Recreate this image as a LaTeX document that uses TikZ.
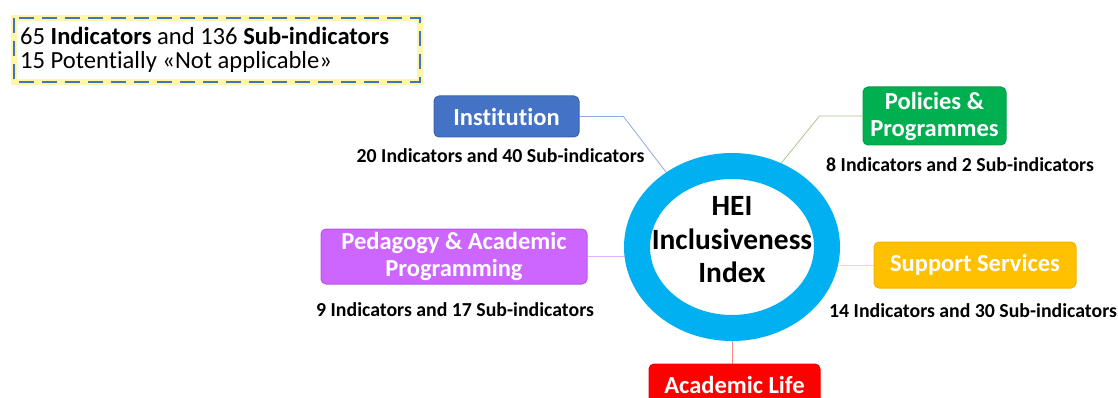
\documentclass[tikz,border=0pt]{standalone}
\usepackage{fontspec}
\setmainfont{Carlito}[Ligatures=NoCommon]
\usetikzlibrary{shapes.geometric,backgrounds}
\definecolor{ringblue}{HTML}{00B0F0}
\definecolor{instblue}{HTML}{4472C4}
\definecolor{instedge}{HTML}{3A64B0}
\definecolor{polgreen}{HTML}{00B050}
\definecolor{poledge}{HTML}{00A046}
\definecolor{pedviolet}{HTML}{CC66FF}
\definecolor{pededge}{HTML}{BB55EE}
\definecolor{supgold}{HTML}{FFC000}
\definecolor{supedge}{HTML}{F0B400}
\definecolor{acadred}{HTML}{FF0000}
\definecolor{acadedge}{HTML}{E80000}
\definecolor{lnblue}{HTML}{8FAADC}
\definecolor{lngreen}{HTML}{A9C48E}
\definecolor{lnviolet}{HTML}{E2B0FF}
\definecolor{lngold}{HTML}{FFE08A}
\definecolor{lnred}{HTML}{FF8A8A}
\definecolor{glowyellow}{HTML}{FFF06A}
\begin{document}
\begin{tikzpicture}[x=1pt,y=-1pt,
  catbox/.style={rounded corners=5pt, line width=1pt, text=white,
    font=\fontsize{24.5}{27}\selectfont\bfseries, align=center, inner sep=0pt},
  countlabel/.style={font=\fontsize{19.8}{23}\selectfont\bfseries, inner sep=0pt},
  notetext/.style={anchor=west, inner sep=0pt, font=\fontsize{24.6}{28}\selectfont},
  link/.style={line width=0.8pt}
]
\useasboundingbox (0,0) rectangle (1118,398);
\clip (0,0) rectangle (1118,398);

% central ring
\node[ellipse, draw=ringblue, fill=white, line width=26pt, outer sep=0pt,
      minimum width=190pt, minimum height=162pt, inner sep=0pt]
  (ring) at (732,247) {};
\node[align=center, inner sep=0pt, font=\fontsize{29.4}{33.5}\selectfont\bfseries]
  (hei) at (732,240) {HEI\\Inclusiveness\\Index};

% category boxes
\node[catbox, fill=instblue, draw=instedge, minimum width=145pt, minimum height=41pt]
  (inst) at (506.5,116.5) {Institution};
\node[catbox, fill=polgreen, draw=poledge, minimum width=143pt, minimum height=58pt]
  (pol) at (934.5,116) {Policies \&\\Programmes};
\node[catbox, fill=pedviolet, draw=pededge, minimum width=266pt, minimum height=55pt]
  (ped) at (454,256.5) {Pedagogy \& Academic\\Programming};
\node[catbox, fill=supgold, draw=supedge, minimum width=202pt, minimum height=46pt]
  (sup) at (975,265) {Support Services};
\node[catbox, fill=acadred, draw=acadedge, minimum width=171pt, minimum height=52pt]
  (acad) at (734.5,390) {};
\node[catbox, draw=none] (acadtext) at (734.5,384.5) {Academic Life};

% count labels
\node[countlabel] (instlab) at (500.5,156) {20 Indicators and 40 Sub-indicators};
\node[countlabel] (pollab) at (960,165) {8 Indicators and 2 Sub-indicators};
\node[countlabel] (pedlab) at (455,310) {9 Indicators and 17 Sub-indicators};
\node[countlabel] (suplab) at (973,311) {14 Indicators and 30 Sub-indicators};

% connectors
\begin{scope}[on background layer]
  \draw[link, draw=lnblue] (inst.east) -- ++(44,0) -- (ring.132);
  \draw[link, draw=lngreen] (pol.west) -- ++(-43,0) -- (ring.61);
  \draw[link, draw=lnviolet] (ped.east) -- (ped.east -| ring.center);
  \draw[link, draw=lngold] (sup.west) -- (sup.west -| ring.center);
  \draw[link, draw=lnred] (acad.north -| ring.center) -- (ring.center);
\end{scope}

% note box
\coordinate (notenw) at (14,18);
\coordinate (notese) at (420,82);
\draw[draw=glowyellow, line width=6pt, opacity=0.6] (notenw) rectangle (notese);
\draw[draw=instblue, line width=2.6pt, dash pattern=on 15pt off 8pt]
  (notenw) rectangle (notese);
\node[notetext] (note1) at (20,36)
  {65 \textbf{Indicators} and 136 \textbf{Sub-indicators}};
\node[notetext] (note2) at (20,62)
  {15 Potentially «Not applicable»};
\end{tikzpicture}
\end{document}
